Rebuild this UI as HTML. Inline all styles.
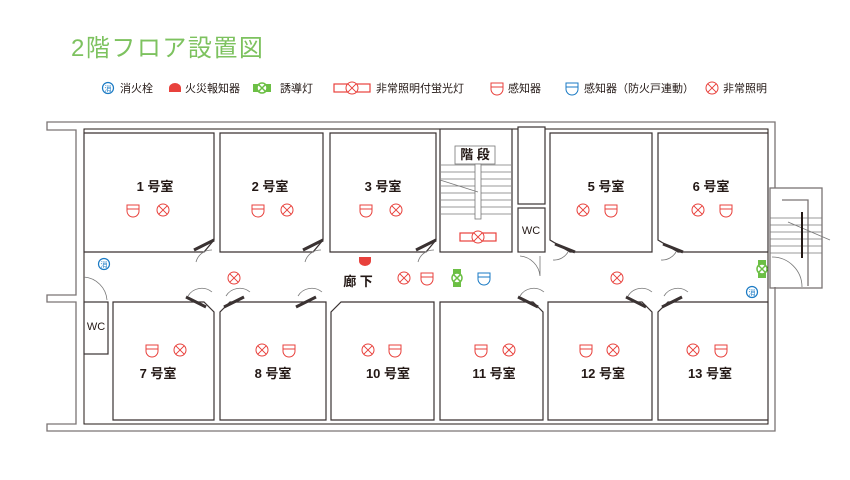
<!DOCTYPE html>
<html><head><meta charset="utf-8"><style>
body{margin:0;background:#fff}
svg{display:block}
text{font-family:"Liberation Sans","Noto Sans CJK JP",sans-serif}
.rm{font-size:13px;font-weight:bold;fill:#231815;text-anchor:middle}
.lg{font-size:11px;fill:#231815}
</style></head><body>
<svg width="850" height="480" viewBox="0 0 850 480" xmlns="http://www.w3.org/2000/svg">
<defs>
<g id="sen"><path d="M-6,-5 H6 V1 A6,6 0 0 1 -6,1 Z M-6,-1 H6" fill="#fff" stroke="#e8413c" stroke-width="1"/></g>
<g id="senb"><path d="M-6,-5 H6 V1 A6,6 0 0 1 -6,1 Z M-6,-1 H6" fill="#fff" stroke="#1a7ac4" stroke-width="1"/></g>
<g id="x"><circle r="6" fill="#fff" stroke="#e8413c" stroke-width="1"/><path d="M-4.2,-4.2 L4.2,4.2 M4.2,-4.2 L-4.2,4.2" stroke="#e8413c" stroke-width="1"/></g>
<g id="hyd"><circle r="5.5" fill="#fff" stroke="#1a7ac4" stroke-width="1.2"/><text x="0" y="3" font-size="7" text-anchor="middle" fill="#1a7ac4">消</text></g>
<g id="grn"><rect x="-9" y="-4" width="18" height="8" fill="#6cbf45"/><circle r="5" fill="#fff" stroke="#6cbf45" stroke-width="1.5"/><path d="M-3.5,-3.5 L3.5,3.5 M3.5,-3.5 L-3.5,3.5" stroke="#6cbf45" stroke-width="1.5"/></g>
<g id="flu"><rect x="-18" y="-4" width="36" height="8" fill="#fff" stroke="#e8413c" stroke-width="1.2"/><circle r="6" fill="#fff" stroke="#e8413c"/><path d="M-4.2,-4.2 L4.2,4.2 M4.2,-4.2 L-4.2,4.2" stroke="#e8413c"/></g>
<g id="alm"><path d="M-6,3 V-1 A6,5 0 0 1 6,-1 V3 Z" fill="#e8413c"/></g>
</defs>

<text x="71" y="56" font-size="24" letter-spacing="1.5" fill="#7dc25f">2階フロア設置図</text>

<!-- legend -->
<use href="#hyd" x="108" y="88"/><text class="lg" x="120" y="92">消火栓</text>
<use href="#alm" x="175" y="89"/><text class="lg" x="185" y="92">火災報知器</text>
<use href="#grn" x="262" y="88"/><text class="lg" x="280" y="92">誘導灯</text>
<use href="#flu" x="352" y="88"/><text class="lg" x="376" y="92">非常照明付蛍光灯</text>
<use href="#sen" x="497" y="88"/><text class="lg" x="508" y="92">感知器</text>
<use href="#senb" x="572" y="88"/><text class="lg" x="584" y="92">感知器（防火戸連動）</text>
<use href="#x" x="712" y="88"/><text class="lg" x="723" y="92">非常照明</text>

<!-- outer walls -->
<g fill="none" stroke="#7a7474" stroke-width="1.3">
<path d="M775,188 V122 H47 V130 H76 V295 H47 V302 H76 V424 H47 V431 H775 V287"/>
<path d="M84,129 H768 V424 H84 Z" stroke="#231815" stroke-width="1"/>
<rect x="770" y="188" width="52" height="100"/>
<path d="M782,200 H808 V286" />
</g>
<!-- rooms -->
<g fill="#fff" stroke="#3a3232" stroke-width="1.2">
<path d="M84,133 H214 V240 L204,252 H84 Z"/>
<path d="M220,133 H323 V240 L313,252 H220 Z"/>
<path d="M330,133 H436 V240 L426,252 H330 Z"/>
<rect x="440" y="129" width="72" height="123"/>
<rect x="518" y="127" width="27" height="77"/>
<rect x="518" y="208" width="27" height="44"/>
<path d="M550,133 H652 V252 H570 L550,240 Z"/>
<path d="M658,133 H768 V252 H678 L658,240 Z"/>
<rect x="84" y="302" width="24" height="52"/>
<path d="M113,302 H204 L214,312 V420 H113 Z"/>
<path d="M230,302 H326 V420 H220 V312 Z"/>
<path d="M341,302 H434 V420 H331 V312 Z"/>
<path d="M440,302 H533 L543,312 V420 H440 Z"/>
<path d="M548,302 H642 L652,312 V420 H548 Z"/>
<path d="M668,302 H768 V420 H658 V312 Z"/>
</g>
<!-- stair details -->
<g stroke="#777" stroke-width="0.8" fill="none">
<path d="M441,165 H511 M441,172 H511 M441,179 H511 M441,186 H511 M441,193 H511 M441,200 H511 M441,207 H511 M441,214 H511"/>
<rect x="455" y="146" width="40" height="18" fill="#fff"/>
<rect x="475" y="164" width="6" height="55" fill="#fff"/>
<path d="M440,180 L478,192"/>
<path d="M770,218 H822 M770,225 H822 M770,232 H822 M770,239 H822 M770,246 H822 M770,253 H822"/>
<path d="M788,222 L830,240"/>
<path d="M772,257 A30,30 0 0 1 802,287"/>
<path d="M84,277 A25,25 0 0 1 107,300"/>
<path d="M520,256 A22,22 0 0 1 540,276 V256"/>
<path d="M196,262 A16,16 0 0 1 212,250 M305,262 A16,16 0 0 1 321,250 M418,262 A16,16 0 0 1 434,250 M553,260 A16,16 0 0 0 568,252 M661,260 A16,16 0 0 0 676,252"/>
<path d="M188,296 A16,16 0 0 1 212,292 M226,296 A16,16 0 0 1 250,292 M298,296 A16,16 0 0 1 322,292 M520,296 A16,16 0 0 1 544,292 M628,296 A16,16 0 0 1 652,292 M664,296 A16,16 0 0 1 688,292"/>
</g>
<path d="M802,212 V258" stroke="#231815" stroke-width="2"/>
<!-- door slats -->
<g stroke="#3a3232" stroke-width="3">
<path d="M194,250 L214,240 M303,250 L323,240 M416,250 L436,240 M555,244 L575,252 M663,244 L683,252"/>
<path d="M186,297 L206,307 M224,307 L244,297 M296,307 L316,297 M518,297 L538,307 M626,297 L646,307 M662,307 L682,297"/>
</g>

<!-- room labels -->
<text class="rm" x="155" y="191">1 号室</text>
<text class="rm" x="270" y="191">2 号室</text>
<text class="rm" x="383" y="191">3 号室</text>
<text class="rm" x="606" y="191">5 号室</text>
<text class="rm" x="711" y="191">6 号室</text>
<text class="rm" x="158" y="378">7 号室</text>
<text class="rm" x="273" y="378">8 号室</text>
<text class="rm" x="388" y="378">10 号室</text>
<text class="rm" x="494" y="378">11 号室</text>
<text class="rm" x="603" y="378">12 号室</text>
<text class="rm" x="710" y="378">13 号室</text>
<text class="rm" x="475" y="159" font-size="11">階 段</text>
<text x="531" y="234" font-size="11" text-anchor="middle" fill="#231815">WC</text>
<text x="96" y="330" font-size="11" text-anchor="middle" fill="#231815">WC</text>
<text class="rm" x="358" y="286" font-size="16">廊 下</text>

<!-- symbols -->
<use href="#sen" x="133" y="210"/><use href="#x" x="163" y="210"/>
<use href="#sen" x="258" y="210"/><use href="#x" x="287" y="210"/>
<use href="#sen" x="366" y="210"/><use href="#x" x="396" y="210"/>
<use href="#x" x="583" y="210"/><use href="#sen" x="611" y="210"/>
<use href="#x" x="698" y="210"/><use href="#sen" x="726" y="210"/>
<use href="#sen" x="152" y="350"/><use href="#x" x="180" y="350"/>
<use href="#x" x="262" y="350"/><use href="#sen" x="289" y="350"/>
<use href="#x" x="368" y="350"/><use href="#sen" x="395" y="350"/>
<use href="#sen" x="481" y="350"/><use href="#x" x="509" y="350"/>
<use href="#sen" x="586" y="350"/><use href="#x" x="613" y="350"/>
<use href="#x" x="693" y="350"/><use href="#sen" x="721" y="350"/>
<use href="#flu" x="478" y="237"/>
<use href="#hyd" x="104" y="264"/><use href="#hyd" x="752" y="292"/>
<use href="#x" x="234" y="278"/><use href="#x" x="404" y="278"/><use href="#sen" x="427" y="278"/>
<use href="#senb" x="484" y="278"/><use href="#x" x="617" y="278"/>
<use href="#alm" x="365" y="260" transform="rotate(180 365 260)"/>
<g transform="translate(457,278) rotate(90)"><use href="#grn"/></g>
<g transform="translate(762,269) rotate(90)"><use href="#grn"/></g>
</svg>
</body></html>
